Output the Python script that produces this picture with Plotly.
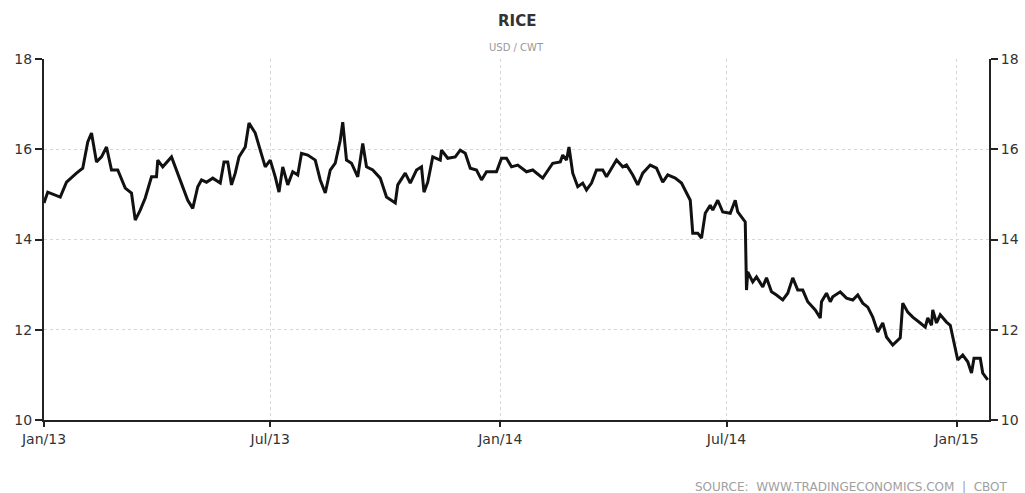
import plotly.graph_objects as go

dates = [
    "2013-01-01", "2013-01-04", "2013-01-14", "2013-01-19", "2013-01-27", "2013-02-01", "2013-02-05", "2013-02-08",
    "2013-02-12", "2013-02-16", "2013-02-20", "2013-02-24", "2013-03-01", "2013-03-07", "2013-03-12", "2013-03-15",
    "2013-03-19", "2013-03-23", "2013-03-28", "2013-04-01", "2013-04-02", "2013-04-06", "2013-04-13", "2013-04-17",
    "2013-04-22", "2013-04-26", "2013-04-30", "2013-05-04", "2013-05-07", "2013-05-11", "2013-05-16", "2013-05-22",
    "2013-05-25", "2013-05-28", "2013-05-31", "2013-06-03", "2013-06-06", "2013-06-11", "2013-06-14", "2013-06-19",
    "2013-06-23", "2013-06-27", "2013-07-01", "2013-07-05", "2013-07-08", "2013-07-11", "2013-07-15", "2013-07-19",
    "2013-07-23", "2013-07-26", "2013-07-31", "2013-08-06", "2013-08-10", "2013-08-14", "2013-08-18", "2013-08-22",
    "2013-08-26", "2013-08-28", "2013-08-31", "2013-09-04", "2013-09-09", "2013-09-13", "2013-09-16", "2013-09-21",
    "2013-09-27", "2013-10-02", "2013-10-09", "2013-10-11", "2013-10-17", "2013-10-21", "2013-10-26", "2013-10-30",
    "2013-11-01", "2013-11-04", "2013-11-08", "2013-11-14", "2013-11-15", "2013-11-20", "2013-11-26", "2013-11-30",
    "2013-12-04", "2013-12-08", "2013-12-13", "2013-12-17", "2013-12-21", "2013-12-29", "2014-01-02", "2014-01-06",
    "2014-01-10", "2014-01-15", "2014-01-22", "2014-01-27", "2014-02-04", "2014-02-12", "2014-02-18", "2014-02-20",
    "2014-02-23", "2014-02-25", "2014-02-28", "2014-03-04", "2014-03-08", "2014-03-11", "2014-03-15", "2014-03-19",
    "2014-03-24", "2014-03-27", "2014-04-04", "2014-04-09", "2014-04-12", "2014-04-17", "2014-04-21", "2014-04-25",
    "2014-05-01", "2014-05-06", "2014-05-11", "2014-05-15", "2014-05-21", "2014-05-26", "2014-06-02", "2014-06-04",
    "2014-06-08", "2014-06-11", "2014-06-14", "2014-06-18", "2014-06-20", "2014-06-24", "2014-06-28", "2014-07-04",
    "2014-07-08", "2014-07-10", "2014-07-16", "2014-07-17", "2014-07-18", "2014-07-22", "2014-07-25", "2014-07-30",
    "2014-08-02", "2014-08-06", "2014-08-10", "2014-08-15", "2014-08-19", "2014-08-23", "2014-08-27", "2014-08-31",
    "2014-09-04", "2014-09-10", "2014-09-14", "2014-09-15", "2014-09-19", "2014-09-22", "2014-09-24", "2014-09-30",
    "2014-10-05", "2014-10-10", "2014-10-14", "2014-10-18", "2014-10-22", "2014-10-26", "2014-10-30", "2014-11-03",
    "2014-11-06", "2014-11-11", "2014-11-17", "2014-11-19", "2014-11-23", "2014-11-27", "2014-12-03", "2014-12-07",
    "2014-12-09", "2014-12-12", "2014-12-13", "2014-12-16", "2014-12-19", "2014-12-24", "2014-12-27", "2014-12-31",
    "2015-01-02", "2015-01-06", "2015-01-10", "2015-01-13", "2015-01-15", "2015-01-20", "2015-01-22", "2015-01-26",
]

prices = [
    14.81, 15.05, 14.94, 15.27, 15.47, 15.58, 16.16, 16.36,
    15.72, 15.83, 16.05, 15.54, 15.54, 15.14, 15.03, 14.43,
    14.65, 14.92, 15.39, 15.39, 15.76, 15.61, 15.83, 15.54,
    15.17, 14.87, 14.69, 15.17, 15.32, 15.27, 15.36, 15.25,
    15.72, 15.72, 15.21, 15.47, 15.83, 16.05, 16.58, 16.36,
    15.98, 15.61, 15.76, 15.39, 15.05, 15.61, 15.21, 15.50,
    15.43, 15.91, 15.87, 15.76, 15.32, 15.03, 15.54, 15.69,
    16.20, 16.60, 15.76, 15.69, 15.39, 16.13, 15.61, 15.54,
    15.36, 14.94, 14.81, 15.21, 15.47, 15.25, 15.54, 15.61,
    15.05, 15.27, 15.83, 15.76, 15.98, 15.80, 15.83, 15.98,
    15.91, 15.58, 15.54, 15.32, 15.50, 15.50, 15.80, 15.80,
    15.61, 15.65, 15.50, 15.54, 15.36, 15.69, 15.72, 15.87,
    15.76, 16.05, 15.47, 15.17, 15.25, 15.10, 15.25, 15.54,
    15.54, 15.39, 15.76, 15.61, 15.65, 15.43, 15.21, 15.47,
    15.65, 15.58, 15.27, 15.43, 15.36, 15.25, 14.87, 14.14,
    14.14, 14.03, 14.58, 14.76, 14.65, 14.87, 14.61, 14.58,
    14.87, 14.61, 14.39, 12.88, 13.28, 13.06, 13.17, 12.95,
    13.15, 12.84, 12.77, 12.66, 12.81, 13.15, 12.88, 12.88,
    12.62, 12.44, 12.26, 12.62, 12.81, 12.62, 12.73, 12.84,
    12.70, 12.66, 12.77, 12.59, 12.50, 12.28, 11.95, 12.15,
    11.84, 11.66, 11.82, 12.59, 12.39, 12.28, 12.15, 12.06,
    12.26, 12.10, 12.44, 12.15, 12.33, 12.17, 12.10, 11.62,
    11.33, 11.44, 11.29, 11.04, 11.37, 11.37, 11.04, 10.89,
]

y_ticks = [10, 12, 14, 16, 18]
x_range = ["2013-01-01", "2015-01-27"]
title_text = "RICE"
unit_text = "USD / CWT"
source_text = "SOURCE:  WWW.TRADINGECONOMICS.COM  |  CBOT"

font_family = "DejaVu Sans, Verdana, sans-serif"
tick_font = dict(family=font_family, size=14, color="#333333")

fig = go.Figure()
fig.add_trace(go.Scatter(x=dates, y=prices, mode="lines",
                         line=dict(color="#111111", width=3),
                         showlegend=False, hoverinfo="x+y"))
# invisible copy for the right-hand axis
fig.add_trace(go.Scatter(x=dates, y=prices, mode="lines", yaxis="y2",
                         line=dict(color="rgba(0,0,0,0)", width=0),
                         showlegend=False, hoverinfo="skip"))

grid_color = "#d6d6d6"
fig.update_layout(
    width=1025, height=493,
    margin=dict(l=44, r=36, t=59, b=73, autoexpand=False),
    paper_bgcolor="white", plot_bgcolor="white",
    xaxis=dict(
        range=x_range, type="date", automargin=False,
        tick0="2013-01-01", dtick="M6", tickformat="%b/%y",
        showgrid=True, gridcolor=grid_color, griddash="dot", gridwidth=1,
        showline=True, linecolor="#222222", linewidth=2,
        ticks="outside", ticklen=5, tickwidth=2, tickcolor="#222222",
        tickfont=tick_font, zeroline=False, fixedrange=True,
    ),
    yaxis=dict(
        range=[10, 18], tickvals=y_ticks, automargin=False,
        showgrid=True, gridcolor=grid_color, griddash="dot", gridwidth=1,
        showline=True, linecolor="#222222", linewidth=2,
        ticks="outside", ticklen=7, tickwidth=2, tickcolor="#222222",
        tickfont=tick_font, zeroline=False,
    ),
    yaxis2=dict(
        range=[10, 18], tickvals=y_ticks, overlaying="y", side="right",
        automargin=False, showgrid=False,
        showline=True, linecolor="#222222", linewidth=2,
        ticks="outside", ticklen=7, tickwidth=2, tickcolor="#222222",
        tickfont=tick_font, zeroline=False,
    ),
    annotations=[
        dict(text="<b>" + title_text + "</b>", x=0.5, xref="paper", y=1, yref="paper",
             yanchor="middle", yshift=38, showarrow=False,
             font=dict(family=font_family, size=15, color="#333333")),
        dict(text=unit_text, x=0.5, xref="paper", y=1, yref="paper",
             yanchor="middle", yshift=12, showarrow=False,
             font=dict(family=font_family, size=10, color="#999999")),
        dict(text=source_text, x=1.022, xref="paper", xanchor="right", y=0, yref="paper",
             yanchor="middle", yshift=-67, showarrow=False,
             font=dict(family=font_family, size=12, color="#a0a0a0")),
    ],
)

fig.write_html("out.html", config={"displayModeBar": False},
               post_script="document.body.style.margin='0';")
